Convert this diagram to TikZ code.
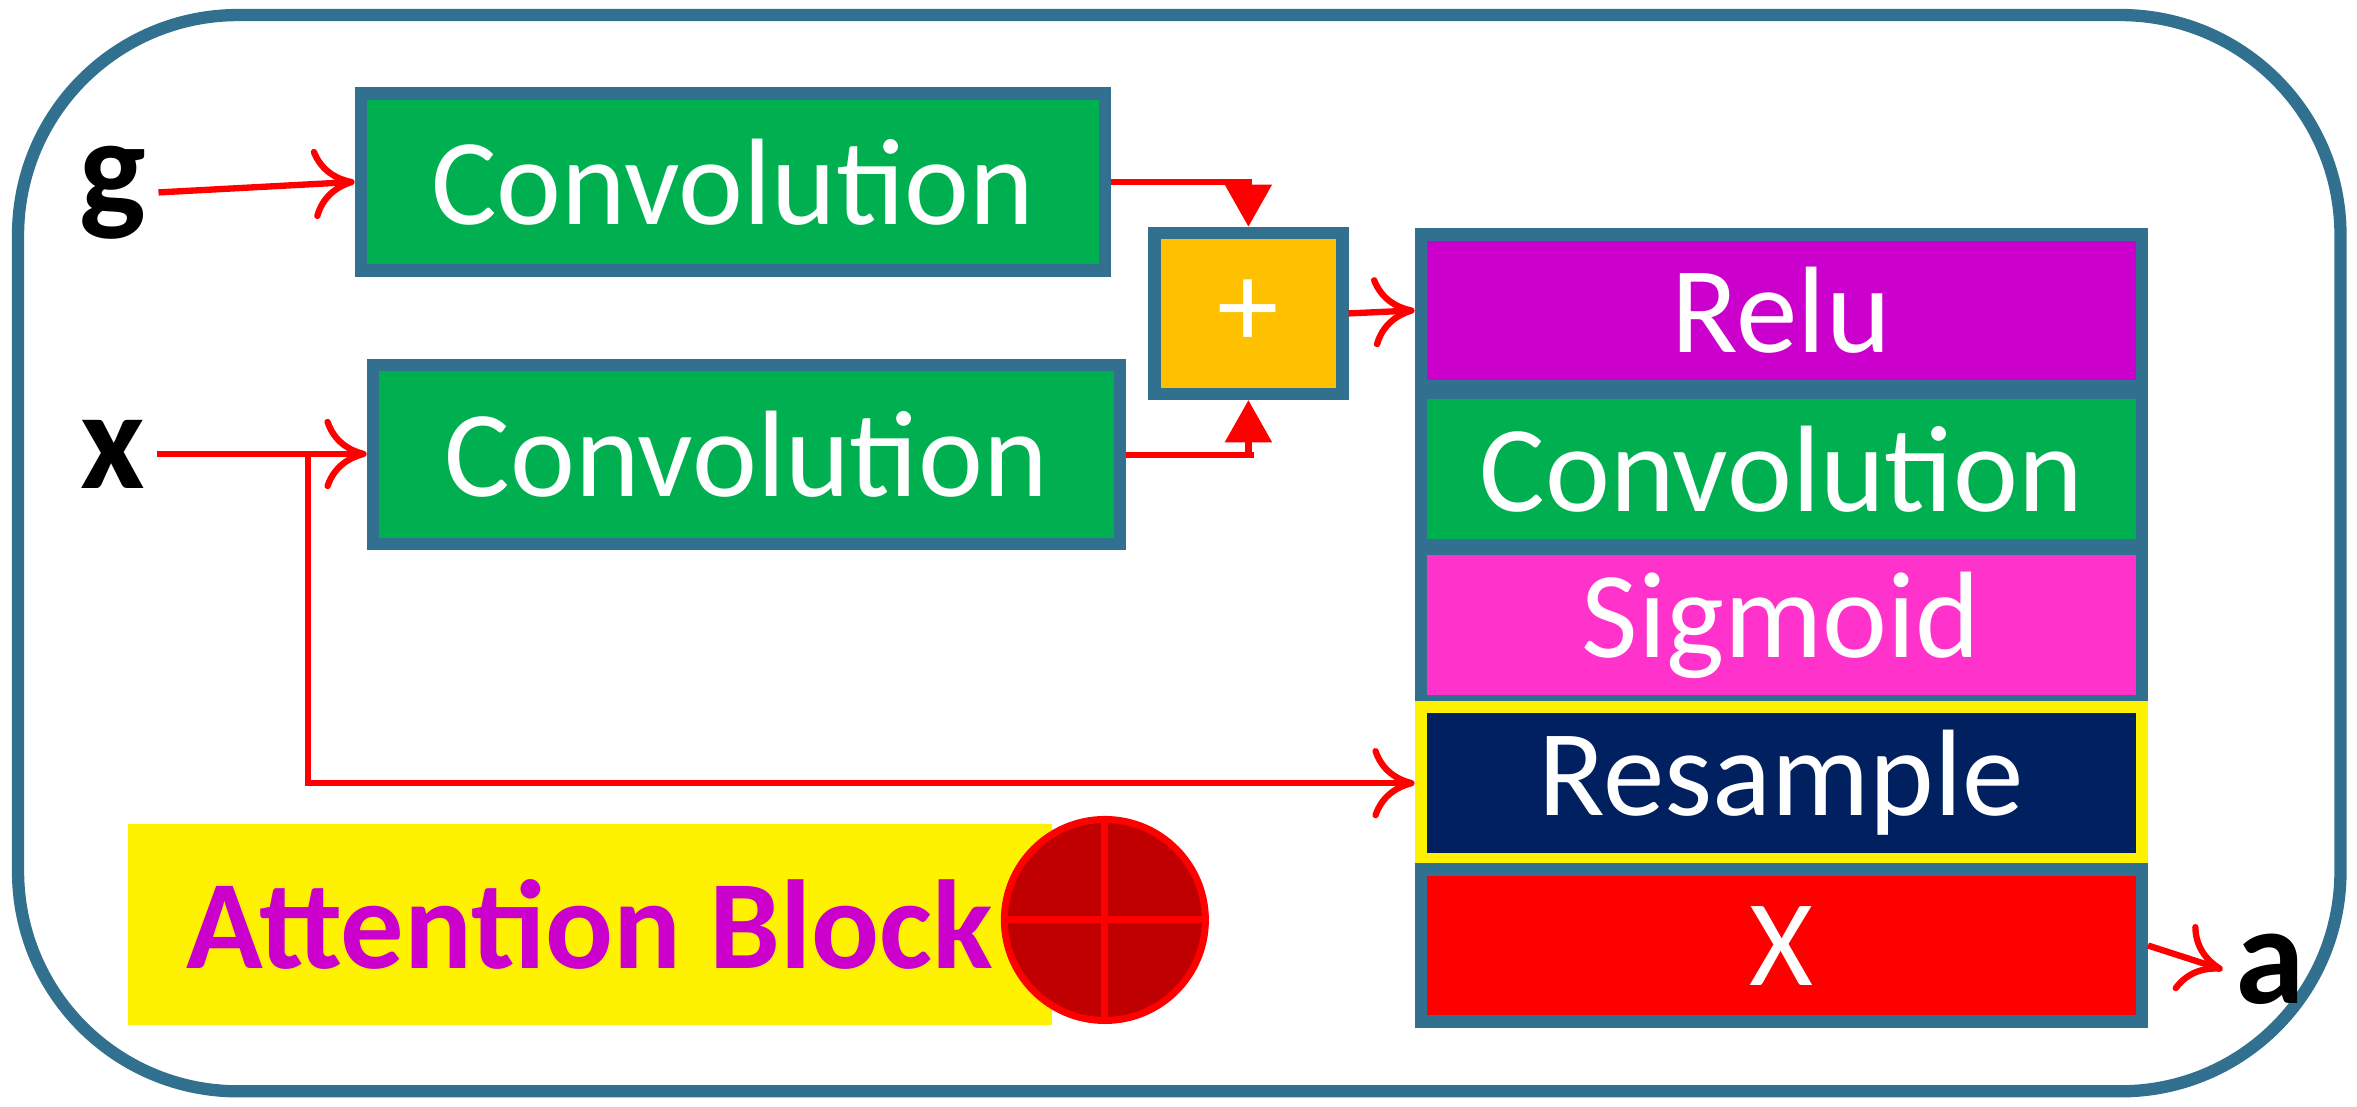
\documentclass[tikz,border=0pt]{standalone}
\usepackage{fontspec}
\setmainfont{Carlito}
\usetikzlibrary{arrows.meta, positioning}
\definecolor{frame}{HTML}{31708F}
\definecolor{convgreen}{HTML}{00B050}
\definecolor{plusorange}{HTML}{FFC000}
\definecolor{relupurple}{HTML}{CC00CC}
\definecolor{sigpink}{HTML}{FF33CC}
\definecolor{navy}{HTML}{002060}
\definecolor{darkred}{HTML}{C00000}
\begin{document}
\begin{tikzpicture}[x=0.01503cm, y=-0.01503cm, font=\fontsize{35}{40}\selectfont,
  blk/.style={rectangle, draw=frame, line width=3.5pt, text=white, inner sep=0pt},
  lay/.style={blk, minimum width=7.21cm, minimum height=1.52cm},
  wire/.style={draw=red, line width=1.8pt, -{To[length=12pt,width=20pt]}},
  wirefill/.style={draw=red, line width=1.8pt, -{Triangle[length=12pt,width=13pt]}},
  lbl/.style={font=\fontsize{40}{46}\selectfont\bfseries}]
\useasboundingbox (0,0) rectangle (1568,736);
% outer frame
\draw[frame, line width=3.5pt, rounded corners=2.2cm] (12,10) rectangle (1557,726);
% input convolutions
\node[blk, fill=convgreen, minimum width=7.44cm, minimum height=1.77cm] (convg) at (487.5,121) {Convolution};
\node[blk, fill=convgreen, minimum width=7.47cm, minimum height=1.79cm] (convx) at (496.5,302.5) {Convolution};
\node[blk, fill=plusorange, minimum width=1.88cm, minimum height=1.61cm] (plus) at (830.5,208.5) {+};
% right stack
\node[lay, fill=relupurple] (relu) at (1185,206.5) {Relu};
\node[lay, fill=convgreen] (conv) at (1185,312) {Convolution};
\node[lay, fill=sigpink] (sig) at (1185,416) {Sigmoid};
\node[lay, fill=navy, draw=yellow] (res) at (1185,521) {Resample};
\node[lay, fill=red] (mul) at (1185,629) {X};
% labels
\node[lbl] (g) at (75,128) {g};
\node[lbl] (x) at (75,302) {x};
\node[lbl] (a) at (1510,645) {a};
% legend
\node[rectangle, fill=yellow, minimum width=9.24cm, minimum height=2.01cm, text=relupurple,
  font=\fontsize{36}{42}\selectfont\bfseries] (legend) at (392.5,615) {Attention Block};
\node[circle, fill=darkred, draw=red, line width=2pt, minimum size=2.01cm] (circ) at (735,612) {};
\draw[red, line width=2pt] (circ.north) -- (circ.south) (circ.west) -- (circ.east);
% connectors
\draw[wire] (g.east) -- (convg.west);
\draw[wire] (x.east) -- (x.east -| convx.west);
\draw[wirefill] (convg.east) -- ++(90,0) -| (plus.north);
\draw[wirefill] (convx.east) -- ++(85,0) -| (plus.south);
\draw[wire] (plus.east) -- (relu.west);
\coordinate (split) at (205,300);
\draw[wire] (split) |- (res.west);
\draw[wire] (mul.east) -- (a.west);
\end{tikzpicture}
\end{document}
